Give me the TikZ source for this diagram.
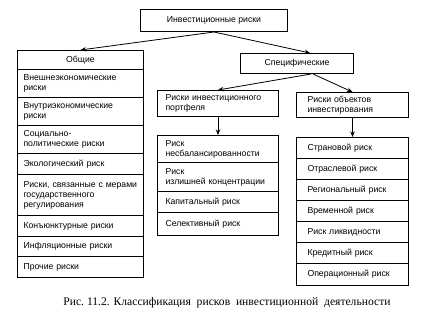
\documentclass[tikz,border=0pt]{standalone}
\usepackage{fontspec}
\setmainfont{Liberation Serif}
\setsansfont{Liberation Sans}
\usetikzlibrary{arrows.meta,calc}
\begin{document}
\begin{tikzpicture}[x=1pt,y=-1pt,
  cell/.style={draw, line width=1pt, anchor=north west, inner ysep=0pt,
    align=left, font=\sffamily\fontsize{8.7}{10}\selectfont},
  head/.style={draw, line width=1pt, anchor=north west, inner sep=0pt,
    align=center, font=\sffamily\fontsize{8.7}{10}\selectfont},
  colL/.style={cell, minimum width=126pt, inner xsep=6pt, text width=114pt},
  colM/.style={cell, minimum width=121pt, inner xsep=8pt, text width=105pt},
  colR/.style={cell, minimum width=112pt, inner xsep=11pt, text width=90pt},
  arr/.style={-{Stealth[length=5.5pt,width=4.5pt]}, line width=0.8pt},
  caption/.style={font=\rmfamily\fontsize{11.6}{13}\selectfont}]
\useasboundingbox (0,0) rectangle (423,321);

% top
\node[head, minimum width=147pt, minimum height=22pt] (top) at (140,9) {Инвестиционные риски};
\node[head, minimum width=113pt, minimum height=20pt] (spec) at (240,53) {Специфические};

% left column
\node[head, minimum width=126pt, minimum height=19pt] (ob) at (17,50) {Общие};
\node[colL, minimum height=28pt] (l1) at (17,69) {Внешнеэкономические\\риски};
\node[colL, minimum height=28pt] (l2) at (17,97) {Внутриэкономические\\риски};
\node[colL, minimum height=28pt] (l3) at (17,125) {Социально-\\политические риски};
\node[colL, minimum height=21pt] (l4) at (17,153) {Экологический риск};
\node[colL, minimum height=41pt] (l5) at (17,174) {Риски, связанные с мерами\\государственного\\регулирования};
\node[colL, minimum height=21pt] (l6) at (17,215) {Конъюнктурные риски};
\node[colL, minimum height=20pt] (l7) at (17,236) {Инфляционные риски};
\node[colL, minimum height=21pt] (l8) at (17,256) {Прочие риски};

% middle column
\node[colM, minimum height=26pt] (pf) at (157,90) {Риски инвестиционного\\портфеля};
\node[colM, minimum height=27pt] (m1) at (157,135) {Риск\\несбалансированности};
\node[colM, minimum height=29pt] (m2) at (157,162) {Риск\\излишней концентрации};
\node[colM, minimum height=21pt] (m3) at (157,191) {Капитальный риск};
\node[colM, minimum height=23pt] (m4) at (157,212) {Селективный риск};

% right column
\node[colR, minimum height=25pt] (oi) at (296,92) {Риски объектов\\инвестирования};
\node[colR, minimum height=21pt] (r1) at (296,137) {Страновой риск};
\node[colR, minimum height=21pt] (r2) at (296,158) {Отраслевой риск};
\node[colR, minimum height=21pt] (r3) at (296,179) {Региональный риск};
\node[colR, minimum height=21pt] (r4) at (296,200) {Временной риск};
\node[colR, minimum height=21pt] (r5) at (296,221) {Риск ликвидности};
\node[colR, minimum height=21pt] (r6) at (296,242) {Кредитный риск};
\node[colR, minimum height=22pt] (r7) at (296,263) {Операционный риск};

% connectors
\draw[arr] (top.south) -- (ob.north);
\draw[arr] (top.south) -- ($(spec.north)+(13,0)$);
\draw[arr] ($(spec.south)+(14,0)$) -- (pf.north);
\draw[arr] ($(spec.south)+(16,0)$) -- (oi.north);
\draw[arr] (pf.south) -- (m1.north);
\draw[arr] (oi.south) -- (r1.north);

% caption
\node[caption] (cap) at (227,303) {Рис.\ 11.2. Классификация\ \ рисков\ \ инвестиционной\ \ деятельности};
\end{tikzpicture}
\end{document}
